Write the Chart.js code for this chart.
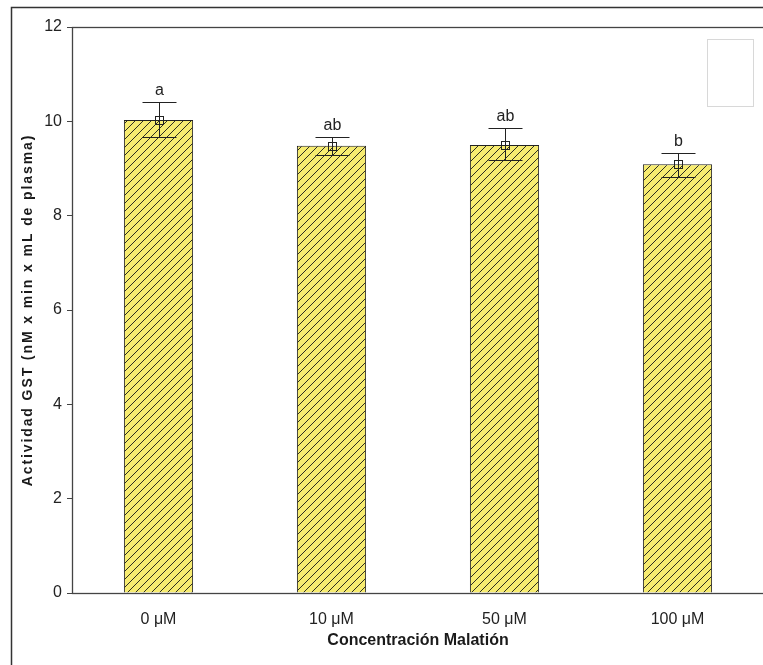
<!DOCTYPE html>
<html lang="es">
<head>
<meta charset="UTF-8">
<title>Actividad GST</title>
<script src="https://cdn.jsdelivr.net/npm/chart.js"></script>
<style>
  html, body { margin: 0; padding: 0; background: #fff; overflow: hidden; }
</style>
</head>
<body>
<canvas id="gstChart" width="780" height="665"></canvas>
<script>
// datos
const concentraciones = ['0 μM', '10 μM', '50 μM', '100 μM'];
const actividadMedia = [10.03, 9.48, 9.50, 9.09];
const errorInferior = [9.67, 9.29, 9.18, 8.82];
const errorSuperior = [10.41, 9.67, 9.86, 9.33];
const letras = ['a', 'ab', 'ab', 'b'];
const ejeYMin = 0, ejeYMax = 12, ejeYPaso = 2;

// relleno rayado amarillo
function makeHatch() {
    const s = 8;
    const c = document.createElement('canvas');
    c.width = s; c.height = s;
    const g = c.getContext('2d');
    g.fillStyle = '#f7ec70';
    g.fillRect(0, 0, s, s);
    g.strokeStyle = '#2e2e20';
    g.lineWidth = 1;
    g.beginPath();
    g.moveTo(-1, s + 1); g.lineTo(s + 1, -1);
    g.moveTo(-1, 1); g.lineTo(1, -1);
    g.moveTo(s - 1, s + 1); g.lineTo(s + 1, s - 1);
    g.stroke();
    return g.createPattern(c, 'repeat');
}

const ctx = document.getElementById('gstChart').getContext('2d');
const hatch = makeHatch();

const decoraciones = {
    id: 'decoraciones',
    afterDatasetsDraw(chart) {
        const c = chart.ctx;
        const y = chart.scales.y;
        const bars = chart.getDatasetMeta(0).data;
        c.save();
        c.strokeStyle = '#222';
        c.lineWidth = 1;
        bars.forEach((bar, i) => {
            const x = Math.round(bar.x) + 0.5;
            const yHi = Math.round(y.getPixelForValue(errorSuperior[i])) + 0.5;
            const yLo = Math.round(y.getPixelForValue(errorInferior[i])) + 0.5;
            const yM = Math.round(y.getPixelForValue(actividadMedia[i])) + 0.5;
            c.beginPath();
            c.moveTo(x, yHi); c.lineTo(x, yLo);
            c.moveTo(x - 17, yHi); c.lineTo(x + 17, yHi);
            c.moveTo(x - 17, yLo); c.lineTo(x + 17, yLo);
            c.stroke();
            c.strokeRect(x - 4, yM - 4, 8, 8);
            c.fillStyle = '#222';
            c.font = '16px "Liberation Sans", Arial, sans-serif';
            c.textAlign = 'center';
            c.textBaseline = 'bottom';
            c.fillText(letras[i], x, yHi - 4);
        });
        c.restore();
    },
    afterDraw(chart) {
        const c = chart.ctx;
        const a = chart.chartArea;
        c.save();
        // marco exterior
        c.strokeStyle = '#333';
        c.lineWidth = 1.5;
        c.beginPath();
        c.moveTo(11.5, 665); c.lineTo(11.5, 7.5); c.lineTo(chart.width, 7.5);
        c.stroke();
        // borde del area de trazado
        c.strokeStyle = '#444';
        c.lineWidth = 1.3;
        c.strokeRect(a.left + 0.5, a.top + 0.5, a.right - a.left, a.bottom - a.top);
        // caja de leyenda vacia
        c.strokeStyle = '#d8d8d8';
        c.lineWidth = 1;
        c.strokeRect(707.5, 39.5, 46, 67);
        // titulos de ejes
        c.fillStyle = '#1a1a1a';
        c.font = 'bold 16px "Liberation Sans", Arial, sans-serif';
        c.textAlign = 'center';
        c.textBaseline = 'middle';
        c.fillText('Concentración Malatión', (a.left + a.right) / 2, 641);
        c.translate(28, 310);
        c.rotate(-Math.PI / 2);
        c.font = 'bold 14px "Liberation Sans", Arial, sans-serif';
        c.letterSpacing = '1.9px';
        c.fillText('Actividad GST (nM x min x mL de plasma)', 0, 0);
        c.restore();
    }
};

new Chart(ctx, {
    type: 'bar',
    data: {
        labels: concentraciones,
        datasets: [{
            data: actividadMedia,
            backgroundColor: hatch,
            borderColor: '#222',
            borderWidth: 1,
            barPercentage: 0.4,
            categoryPercentage: 1.0
        }]
    },
    options: {
        responsive: false,
        animation: false,
        layout: { padding: { top: 27, right: 16, left: 0, bottom: 0 } },
        plugins: {
            legend: { display: false },
            tooltip: { enabled: false }
        },
        scales: {
            x: {
                grid: { display: false },
                border: { display: false },
                ticks: {
                    color: '#222',
                    padding: 9,
                    font: { size: 16, family: '"Liberation Sans", Arial, sans-serif' }
                },
                afterFit(scale) { scale.height = 72; }
            },
            y: {
                min: ejeYMin,
                max: ejeYMax,
                grid: { drawOnChartArea: false, tickLength: 5, color: '#444' },
                border: { display: false },
                ticks: {
                    stepSize: ejeYPaso,
                    color: '#222',
                    padding: 5,
                    font: { size: 16, family: '"Liberation Sans", Arial, sans-serif' }
                },
                afterFit(scale) { scale.width = 72; }
            }
        }
    },
    plugins: [decoraciones]
});
</script>
</body>
</html>
